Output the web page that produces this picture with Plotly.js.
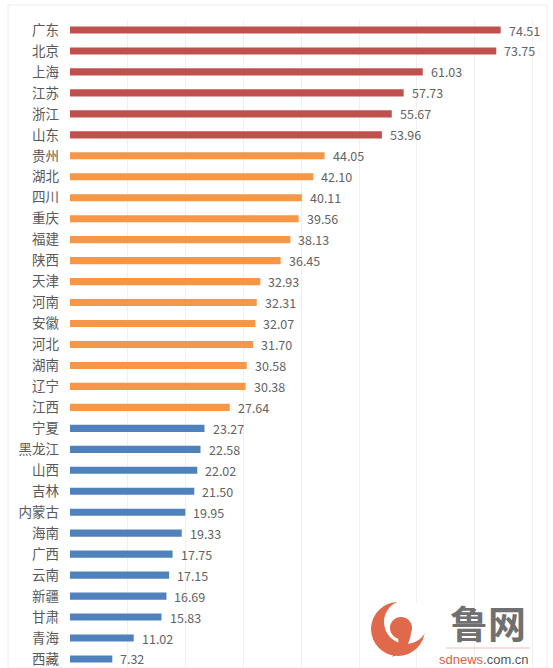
<!DOCTYPE html>
<html>
<head>
<meta charset="utf-8">
<script src="https://cdn.plot.ly/plotly-3.0.1.min.js"></script>
<style>html,body{margin:0;padding:0;background:#fff;}#chart{width:553px;height:668px;}</style>
</head>
<body>
<div id="chart"></div>
<script>
const provinces = ['广东','北京','上海','江苏','浙江','山东','贵州','湖北','四川','重庆','福建','陕西','天津','河南','安徽','河北','湖南','辽宁','江西','宁夏','黑龙江','山西','吉林','内蒙古','海南','广西','云南','新疆','甘肃','青海','西藏'];
const values = [74.51,73.75,61.03,57.73,55.67,53.96,44.05,42.10,40.11,39.56,38.13,36.45,32.93,32.31,32.07,31.70,30.58,30.38,27.64,23.27,22.58,22.02,21.50,19.95,19.33,17.75,17.15,16.69,15.83,11.02,7.32];
const tiers = ['high','high','high','high','high','high',
  'mid','mid','mid','mid','mid','mid','mid','mid','mid','mid','mid','mid','mid',
  'low','low','low','low','low','low','low','low','low','low','low','low'];
const tierColors = {high:'#C0504D', mid:'#F79646', low:'#4F81BD'};

const W = 553, H = 668;
const mL = 70, mR = 13, mT = 20, mB = 0;
const plotW = W - mL - mR, plotH = H - mT - mB;
function px(x){ return (x - mL) / plotW; }
function py(y){ return (H - mB - y) / plotH; }

const trace = {
  type: 'bar',
  orientation: 'h',
  x: values,
  y: provinces,
  marker: {color: tiers.map(t => tierColors[t])},
  hoverinfo: 'none'
};

const annotations = values.map((v, i) => ({
  x: v, y: provinces[i], xref: 'x', yref: 'y',
  text: v.toFixed(2), showarrow: false,
  xanchor: 'left', yanchor: 'middle', xshift: 6,
  font: {family: 'Noto Sans CJK SC, Noto Sans, sans-serif', size: 12.5, color: '#636363'}
}));

// watermark text
annotations.push({
  xref: 'paper', yref: 'paper', x: px(488), y: py(621),
  text: '<b>鲁网</b>', showarrow: false, xanchor: 'center', yanchor: 'middle',
  font: {family: 'Noto Sans CJK SC, sans-serif', size: 38, color: '#707070'}
});
annotations.push({
  xref: 'paper', yref: 'paper', x: px(484), y: py(659),
  text: '<span style="color:#d9603f">sdnews</span>.com.cn', showarrow: false,
  xanchor: 'center', yanchor: 'middle',
  font: {family: 'Liberation Sans, Arial, sans-serif', size: 13, color: '#555555'}
});

function circ(cx, cy, r, color){
  return {type:'circle', xref:'paper', yref:'paper',
    x0: px(cx - r), x1: px(cx + r), y0: py(cy + r), y1: py(cy - r),
    fillcolor: color, line: {width: 0}, layer: 'above'};
}
const logoColor = '#E0694C';
const shapes = [
  // faint chart frame
  {type:'rect', xref:'paper', yref:'paper', x0: px(8), x1: px(547), y0: py(668), y1: py(5),
   line:{color:'#ececec', width:1}, fillcolor:'rgba(0,0,0,0)', layer:'below'},
  circ(398, 629, 27, logoColor),
  circ(406, 622, 22, '#ffffff'),
  circ(401, 628, 11, logoColor),
  {type:'path', xref:'paper', yref:'paper', layer:'above',
   path: `M ${px(411)} ${py(626)} Q ${px(413)} ${py(648)} ${px(392)} ${py(657)} Q ${px(400)} ${py(648)} ${px(398)} ${py(636)} Z`,
   fillcolor: logoColor, line:{width:0}},
  // thin line under the name
  {type:'line', xref:'paper', yref:'paper', x0: px(446), x1: px(530), y0: py(648), y1: py(648),
   line:{color:'#f1c2b4', width:1}, layer:'above'}
];

const layout = {
  width: W, height: H,
  margin: {l: mL, r: mR, t: mT, b: mB},
  paper_bgcolor: '#ffffff', plot_bgcolor: '#ffffff',
  showlegend: false,
  bargap: 0.66,
  xaxis: {
    range: [0, plotW / 5.78], dtick: 10, tick0: 0,
    showgrid: true, gridcolor: '#f0f0f0', gridwidth: 1,
    zeroline: false, showticklabels: false, showline: false, ticks: ''
  },
  yaxis: {
    type: 'category', categoryorder: 'array', categoryarray: provinces,
    range: [30.43, -0.477],
    showgrid: false, zeroline: false, showline: false, ticks: '',
    ticklabelstandoff: 10,
    tickfont: {family: 'Noto Sans CJK SC, sans-serif', size: 13.5, color: '#595959'}
  },
  annotations: annotations,
  shapes: shapes
};

Plotly.newPlot('chart', [trace], layout, {staticPlot: true, displayModeBar: false});
</script>
</body>
</html>
